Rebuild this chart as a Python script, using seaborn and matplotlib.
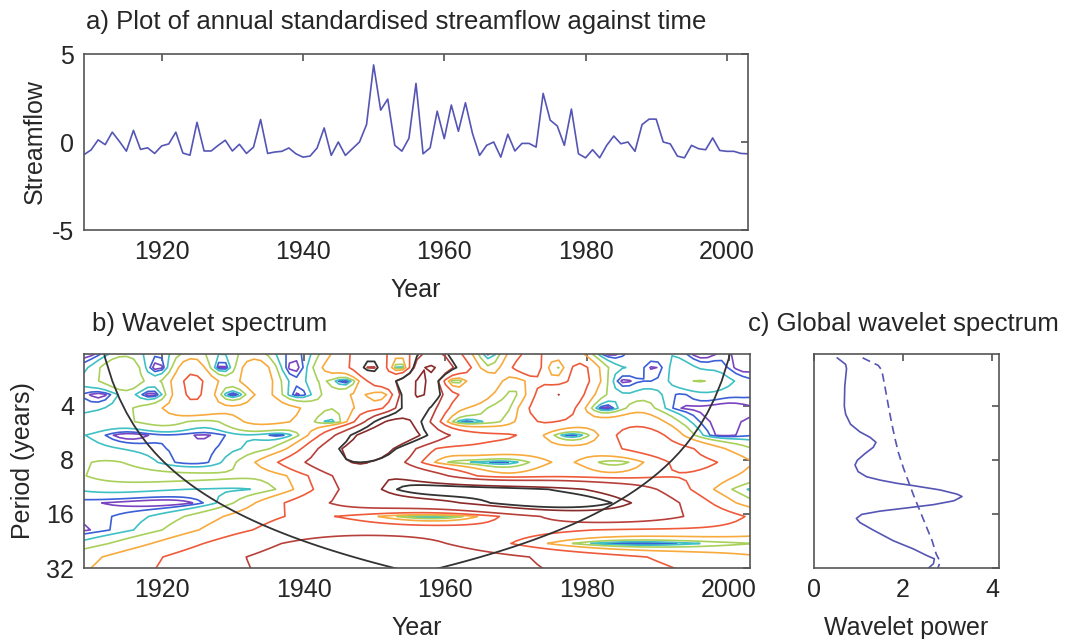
import numpy as np
import matplotlib
matplotlib.use('Agg')
import matplotlib.pyplot as plt
import seaborn as sns

# ---- data ----
years = np.arange(1909, 2004)
streamflow = [
    -0.72, -0.45, 0.12, -0.15, 0.56, 0.04, -0.52, 0.66, -0.42, -0.33,
    -0.65, -0.22, -0.11, 0.56, -0.63, -0.75, 1.12, -0.51, -0.51, -0.19,
    0.10, -0.51, -0.13, -0.65, -0.29, 1.28, -0.65, -0.57, -0.53, -0.34,
    -0.67, -0.86, -0.80, -0.34, 0.80, -0.76, 0.00, -0.76, -0.38, 0.00,
    0.99, 4.38, 1.81, 2.44, -0.19, -0.52, 0.21, 3.33, -0.67, -0.33,
    1.75, 0.19, 2.10, 0.61, 2.23, 0.48, -0.76, -0.19, 0.00, -0.86,
    0.44, -0.51, -0.08, -0.08, -0.29, 2.76, 1.24, 0.91, -0.19, 1.87,
    -0.67, -0.90, -0.44, -0.90, -0.19, 0.34, -0.10, 0.00, -0.53, 0.99,
    1.30, 1.30, 0.00, -0.11, -0.80, -0.90, -0.19, -0.38, -0.44, 0.23,
    -0.48, -0.53, -0.53, -0.65, -0.67,
]

# global wavelet spectrum (panel c)
gws_period = [2.17, 2.36, 2.49, 3.13, 4.03, 4.47, 5.08, 5.60, 6.01, 6.40,
              6.82, 7.41, 8.06, 8.57, 9.32, 9.95, 10.38, 10.82, 11.15, 11.78,
              12.43, 12.81, 13.53, 14.22, 14.83, 15.45, 16.11, 16.97, 17.88, 19.70,
              22.58, 25.07, 27.28, 28.44, 30.27, 32.0]
gws_power = [0.52, 0.71, 0.73, 0.69, 0.68, 0.71, 0.82, 1.03, 1.26, 1.39,
             1.33, 1.14, 0.97, 0.92, 0.99, 1.18, 1.48, 1.86, 2.23, 2.83,
             3.21, 3.32, 3.14, 2.68, 2.08, 1.48, 1.07, 0.95, 1.03, 1.33,
             1.78, 2.23, 2.53, 2.70, 2.68, 2.57]
sig_period = [2.17, 2.39, 2.54, 3.13, 4.03, 4.98, 6.14, 7.26, 8.96, 10.6,
              12.54, 15.48, 19.1, 22.58, 26.7, 29.6, 32.0]
sig_power = [1.09, 1.44, 1.52, 1.59, 1.67, 1.74, 1.82, 1.89, 2.01, 2.12,
             2.23, 2.38, 2.53, 2.65, 2.74, 2.83, 2.78]

contour_levels = [0.03125, 0.0625, 0.125, 0.25, 0.5, 1, 2, 4, 8]
contour_colors = ['#7a44c0', '#3a5fd6', '#3fc0c4', '#a9d05a', '#f8aa3c',
                  '#ee5a3a', '#b8403a', '#8a2a2a', '#5a1a1a']
period_ticks = [4, 8, 16, 32]
year_ticks = [1920, 1940, 1960, 1980, 2000]

LINE = '#5555b5'
DARK = '#333333'

# ---- Morlet wavelet transform of the series (Torrence & Compo style) ----
x = np.asarray(streamflow, dtype=float)
n = len(x)
xn = (x - x.mean()) / x.std(ddof=1)
dt, dj, s0, k0 = 1.0, 0.25, 2.0, 6.0
npad = 2 ** (int(np.log2(n) + 0.4999) + 1)
xp = np.zeros(npad)
xp[:n] = xn
k = 2 * np.pi * np.fft.fftfreq(npad, dt)
fx = np.fft.fft(xp)
scales = s0 * 2 ** (np.arange(0, int(4 / dj) + 1) * dj)
wave = np.zeros((len(scales), npad), dtype=complex)
for i, s in enumerate(scales):
    daughter = np.sqrt(2 * np.pi * s / dt) * np.pi ** -0.25 * np.exp(-(s * k - k0) ** 2 / 2) * (k > 0)
    wave[i] = np.fft.ifft(fx * daughter)
fourier_factor = 4 * np.pi / (k0 + np.sqrt(2 + k0 ** 2))
period = fourier_factor * scales
power = np.abs(wave[:, :n]) ** 2

# red-noise 95% significance
lag1 = np.sum(xn[:-1] * xn[1:]) / np.sum(xn * xn)
freq = dt / period
p_theor = (1 - lag1 ** 2) / (1 - 2 * lag1 * np.cos(2 * np.pi * freq) + lag1 ** 2)
signif = p_theor * 5.9915 / 2
sig95 = power / signif[:, None]

# cone of influence
coi = fourier_factor / np.sqrt(2) * dt * np.concatenate(
    [[1e-5], np.arange(1, (n + 1) // 2), np.arange(1, n // 2)[::-1], [1e-5]])

# ---- figure ----
sns.set_theme(style='white')
plt.rcParams['font.family'] = ['Liberation Sans', 'DejaVu Sans']
plt.rcParams['font.size'] = 18
plt.rcParams['axes.unicode_minus'] = False

fig = plt.figure(figsize=(10.65, 6.39), dpi=100)
W, H = 1065, 639


def box(l, t, r, b):
    return [l / W, 1 - b / H, (r - l) / W, (b - t) / H]


def style(ax):
    for sp in ax.spines.values():
        sp.set_color('#555555')
        sp.set_linewidth(1.2)
    ax.tick_params(direction='in', top=True, right=True, length=5, width=1.1,
                   color='#444444', labelsize=18, pad=7)


# a) streamflow
ax1 = fig.add_axes(box(84, 54, 748, 230))
sns.lineplot(x=years, y=streamflow, ax=ax1, color=LINE, lw=1.2)
ax1.set_xlim(1909, 2003)
ax1.set_ylim(-5, 5)
ax1.set_xticks(year_ticks)
ax1.set_yticks([-5, 0, 5])
ax1.set_xlabel('Year', fontsize=18, labelpad=10)
ax1.set_ylabel('Streamflow', fontsize=18, labelpad=4)
style(ax1)
fig.text(86 / W, 1 - 22 / H, 'a) Plot of annual standardised streamflow against time',
         fontsize=18.5, ha='left', va='center')

# b) wavelet spectrum
ax2 = fig.add_axes(box(84, 354, 750, 568))
ax2.contour(years, period, power, levels=contour_levels, colors=contour_colors,
            linewidths=1.2)
ax2.contour(years, period, sig95, levels=[1], colors=DARK, linewidths=1.3)
ax2.plot(years, coi, color=DARK, lw=1.3)
ax2.set_yscale('log', base=2)
ax2.set_ylim(32, period[0])
ax2.set_xlim(1909, 2003)
ax2.set_yticks(period_ticks)
ax2.set_yticklabels([str(p) for p in period_ticks])
ax2.yaxis.set_minor_locator(matplotlib.ticker.NullLocator())
ax2.set_xticks(year_ticks)
ax2.set_xlabel('Year', fontsize=18, labelpad=10)
ax2.set_ylabel('Period (years)', fontsize=18, labelpad=8)
style(ax2)
fig.text(92 / W, 1 - 324 / H, 'b) Wavelet spectrum', fontsize=18.5, ha='left', va='center')

# c) global wavelet spectrum
ax3 = fig.add_axes(box(814, 354, 999, 568))
sns.lineplot(x=gws_power, y=gws_period, ax=ax3, sort=False, estimator=None,
             color=LINE, lw=1.2)
sns.lineplot(x=sig_power, y=sig_period, ax=ax3, sort=False, estimator=None,
             color=LINE, lw=1.2, linestyle=(0, (5, 3)))
ax3.set_yscale('log', base=2)
ax3.set_ylim(32, period[0])
ax3.set_yticks(period_ticks)
ax3.set_yticklabels([])
ax3.yaxis.set_minor_locator(matplotlib.ticker.NullLocator())
ax3.set_xlim(0, 1.25 * max(gws_power))
ax3.set_xticks([0, 2, 4])
ax3.set_xlabel('Wavelet power', fontsize=18, labelpad=10)
ax3.set_ylabel('')
style(ax3)
fig.text(748 / W, 1 - 324 / H, 'c) Global wavelet spectrum', fontsize=18.5, ha='left', va='center')

fig.savefig('out.png', dpi=100)
